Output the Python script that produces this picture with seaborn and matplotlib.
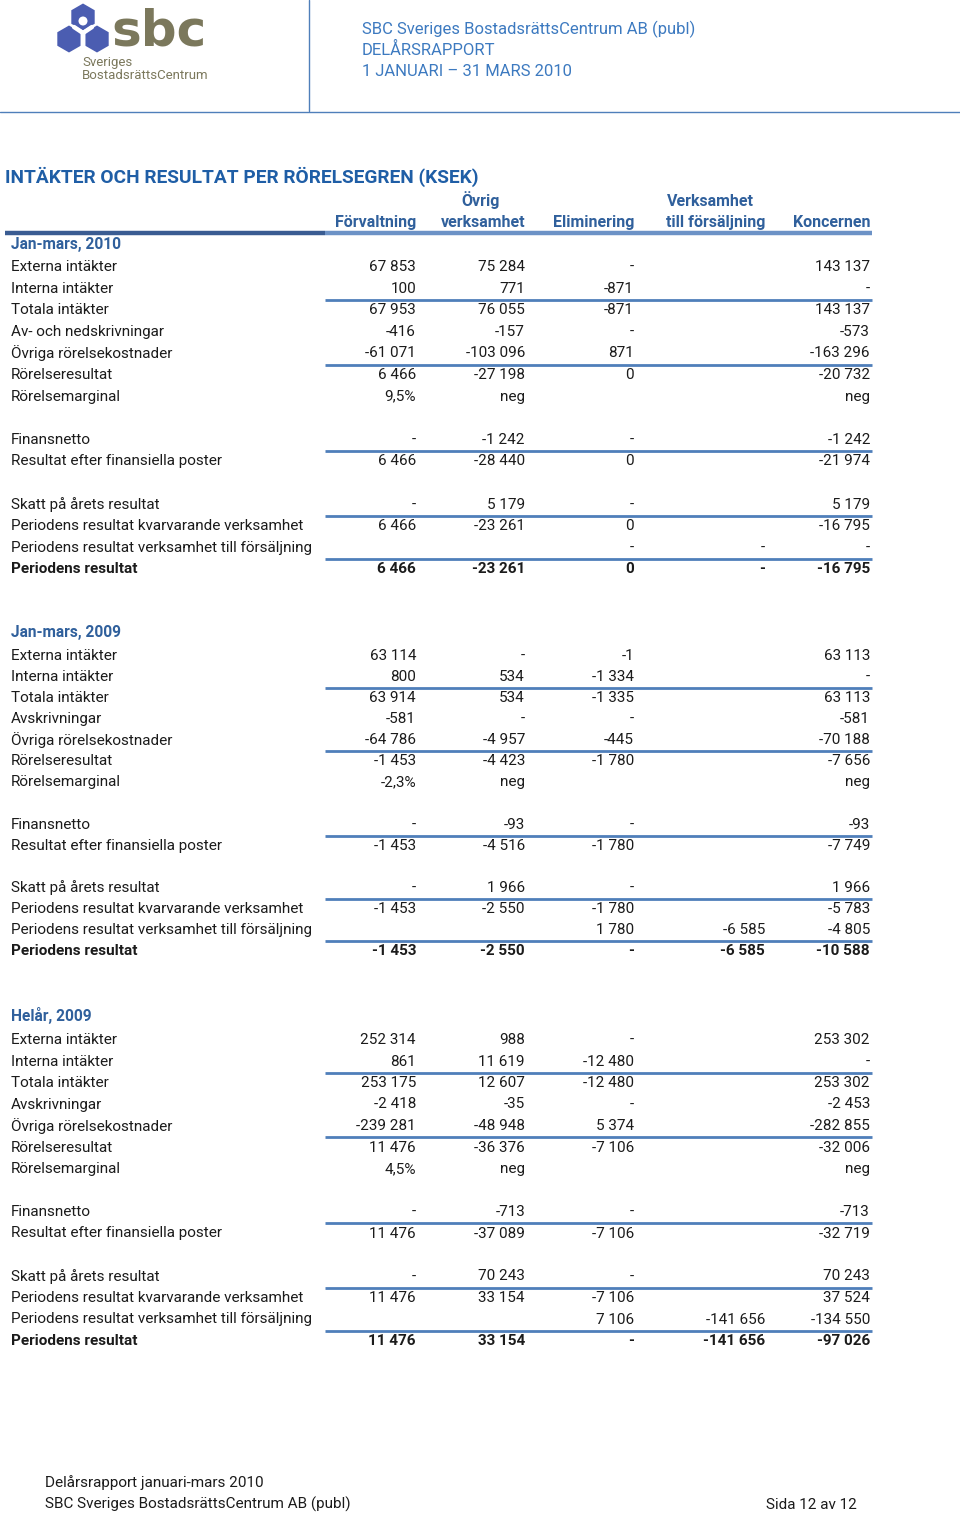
import matplotlib
matplotlib.use("Agg")
import matplotlib.pyplot as plt
import matplotlib.patches as mpatches
import seaborn as sns

# 1. data
COLUMNS_TOP = ["", "Övrig", "", "Verksamhet", ""]
COLUMNS = ["Förvaltning", "verksamhet", "Eliminering", "till försäljning", "Koncernen"]

SECTION_TITLES = ["Jan-mars, 2010", "Jan-mars, 2009", "Helår, 2009"]

LABELS_2010 = ["Externa intäkter", "Interna intäkter", "Totala intäkter",
               "Av- och nedskrivningar", "Övriga rörelsekostnader",
               "Rörelseresultat", "Rörelsemarginal", None,
               "Finansnetto", "Resultat efter finansiella poster", None,
               "Skatt på årets resultat",
               "Periodens resultat kvarvarande verksamhet",
               "Periodens resultat verksamhet till försäljning",
               "Periodens resultat"]
LABELS_2009 = ["Externa intäkter", "Interna intäkter", "Totala intäkter",
               "Avskrivningar", "Övriga rörelsekostnader",
               "Rörelseresultat", "Rörelsemarginal", None,
               "Finansnetto", "Resultat efter finansiella poster", None,
               "Skatt på årets resultat",
               "Periodens resultat kvarvarande verksamhet",
               "Periodens resultat verksamhet till försäljning",
               "Periodens resultat"]

Q1_2010 = [
    ["67 853", "75 284", "-", "", "143 137"],
    ["100", "771", "-871", "", "-"],
    ["67 953", "76 055", "-871", "", "143 137"],
    ["-416", "-157", "-", "", "-573"],
    ["-61 071", "-103 096", "871", "", "-163 296"],
    ["6 466", "-27 198", "0", "", "-20 732"],
    ["9,5%", "neg", "", "", "neg"],
    None,
    ["-", "-1 242", "-", "", "-1 242"],
    ["6 466", "-28 440", "0", "", "-21 974"],
    None,
    ["-", "5 179", "-", "", "5 179"],
    ["6 466", "-23 261", "0", "", "-16 795"],
    ["", "", "-", "-", "-"],
    ["6 466", "-23 261", "0", "-", "-16 795"],
]
Q1_2009 = [
    ["63 114", "-", "-1", "", "63 113"],
    ["800", "534", "-1 334", "", "-"],
    ["63 914", "534", "-1 335", "", "63 113"],
    ["-581", "-", "-", "", "-581"],
    ["-64 786", "-4 957", "-445", "", "-70 188"],
    ["-1 453", "-4 423", "-1 780", "", "-7 656"],
    ["-2,3%", "neg", "", "", "neg"],
    None,
    ["-", "-93", "-", "", "-93"],
    ["-1 453", "-4 516", "-1 780", "", "-7 749"],
    None,
    ["-", "1 966", "-", "", "1 966"],
    ["-1 453", "-2 550", "-1 780", "", "-5 783"],
    ["", "", "1 780", "-6 585", "-4 805"],
    ["-1 453", "-2 550", "-", "-6 585", "-10 588"],
]
FY_2009 = [
    ["252 314", "988", "-", "", "253 302"],
    ["861", "11 619", "-12 480", "", "-"],
    ["253 175", "12 607", "-12 480", "", "253 302"],
    ["-2 418", "-35", "-", "", "-2 453"],
    ["-239 281", "-48 948", "5 374", "", "-282 855"],
    ["11 476", "-36 376", "-7 106", "", "-32 006"],
    ["4,5%", "neg", "", "", "neg"],
    None,
    ["-", "-713", "-", "", "-713"],
    ["11 476", "-37 089", "-7 106", "", "-32 719"],
    None,
    ["-", "70 243", "-", "", "70 243"],
    ["11 476", "33 154", "-7 106", "", "37 524"],
    ["", "", "7 106", "-141 656", "-134 550"],
    ["11 476", "33 154", "-", "-141 656", "-97 026"],
]
UNDERLINE_AFTER = [1, 4, 8, 11, 13]   # linje under dessa rader
BOLD_ROWS = [14]

# 2. layout (pixel-koordinater)
W, H = 960, 1514
COL_RIGHT = [416, 525, 634, 765, 870]
COL_TOP_CENTER = [None, 481, None, 710, None]
LABEL_X = 11
RULE_X0, RULE_X1 = 325, 872
SECTION_HEAD_Y = [245, 632, 1016]
SECTION_ROW0_Y = [267, 656, 1040]
SECTION_STEP = [21.6, 21.07, 21.5]

FONT = ["Liberation Sans Narrow", "DejaVu Sans Condensed", "Roboto", "DejaVu Sans"]
BLUE_TITLE = "#1f5ea6"
BLUE_HEAD = "#30609c"
BLUE_RULE = "#4f7fba"
BLUE_TOP = "#3d7ac0"
OLIVE = "#7b785c"
LOGO_BLUE = "#4b5db1"
TXT = "#1b1b1b"

sns.set_theme(style="white")
plt.rcParams["font.family"] = FONT

fig = plt.figure(figsize=(W / 100, H / 100), dpi=100)
ax = fig.add_axes([0, 0, 1, 1])
ax.set_xlim(0, W)
ax.set_ylim(H, 0)
ax.axis("off")

# sidhuvud / logga
for cx, cy in [(83, 17), (69, 39), (97, 39)]:
    ax.add_patch(mpatches.RegularPolygon((cx, cy), 6, radius=13.5, orientation=0,
                                         color=LOGO_BLUE, lw=0))
ax.add_patch(mpatches.Circle((83, 21), 4.5, color="white", lw=0))
ax.plot([74, 83, 92], [27, 33, 27], color="white", lw=3.2, solid_capstyle="round")
ax.plot([83, 83], [33, 50], color="white", lw=3.2)
ax.text(111, 45, "sbc", color=OLIVE, fontsize=36, fontweight="bold",
        family=["DejaVu Sans"], va="baseline", ha="left")
ax.text(82, 66, "Sveriges", color=OLIVE, fontsize=9.5, va="baseline")
ax.text(82, 79, "BostadsrättsCentrum", color=OLIVE, fontsize=9.5, va="baseline")

ax.plot([309, 309], [0, 111], color=BLUE_RULE, lw=1)
ax.plot([0, W], [112, 112], color=BLUE_RULE, lw=1)
for i, t in enumerate(["SBC Sveriges BostadsrättsCentrum AB (publ)", "DELÅRSRAPPORT",
                       "1 JANUARI – 31 MARS 2010"]):
    ax.text(362, 34 + i * 21, t, color=BLUE_TOP, fontsize=12, va="baseline")

# rubrik
ax.text(5, 183, "INTÄKTER OCH RESULTAT PER RÖRELSEGREN (KSEK)", color=BLUE_TITLE,
        fontsize=13.8, fontweight="bold", va="baseline")
for j, name in enumerate(COLUMNS):
    ax.text(COL_RIGHT[j], 227, name, color=BLUE_HEAD, fontsize=11.5,
            fontweight="bold", ha="right", va="baseline")
    if COLUMNS_TOP[j]:
        ax.text(COL_TOP_CENTER[j], 206, COLUMNS_TOP[j], color=BLUE_HEAD,
                fontsize=11.5, fontweight="bold", ha="center", va="baseline")
ax.plot([5, RULE_X0], [233, 233], color="#3a5c92", lw=3.2, solid_capstyle="butt")
ax.plot([RULE_X0, RULE_X1], [233, 233], color="#6c92c6", lw=3.2, solid_capstyle="butt")

# tabell
sections = [(LABELS_2010, Q1_2010), (LABELS_2009, Q1_2009), (LABELS_2009, FY_2009)]
for s, (labels, rows) in enumerate(sections):
    ax.text(LABEL_X, SECTION_HEAD_Y[s], SECTION_TITLES[s], color=BLUE_HEAD,
            fontsize=11.2, fontweight="bold", va="center")
    y0, step = SECTION_ROW0_Y[s], SECTION_STEP[s]
    for i, (lab, vals) in enumerate(zip(labels, rows)):
        y = y0 + i * step
        if lab is None:
            continue
        fw = "bold" if i in BOLD_ROWS else "normal"
        ax.text(LABEL_X, y, lab, color=TXT, fontsize=11, fontweight=fw, va="center")
        for j, v in enumerate(vals):
            if v:
                ax.text(COL_RIGHT[j], y, v, color=TXT, fontsize=11, fontweight=fw,
                        ha="right", va="center")
        if i in UNDERLINE_AFTER:
            ly = y + step / 2 + 0.5
            ax.plot([RULE_X0, RULE_X1], [ly, ly], color=BLUE_RULE, lw=2,
                    solid_capstyle="butt")

# sidfot
ax.text(45, 1487, "Delårsrapport januari-mars 2010", color=TXT, fontsize=11, va="baseline")
ax.text(45, 1509, "SBC Sveriges BostadsrättsCentrum AB (publ)", color=TXT, fontsize=11,
        va="baseline")
ax.text(857, 1509, "Sida 12 av 12", color=TXT, fontsize=11, ha="right", va="baseline")

fig.savefig("out.png", dpi=100, facecolor="white")
